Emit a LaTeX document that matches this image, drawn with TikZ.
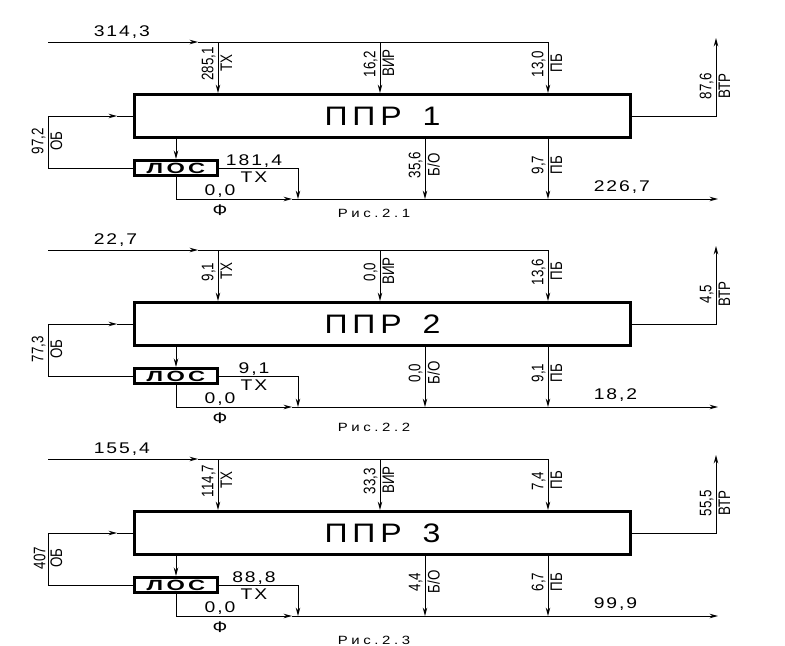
\documentclass[tikz,border=0pt]{standalone}
\usepackage{fontspec}
\usepackage{graphicx}
\setmainfont{Liberation Sans}
\newfontfamily\gost[LetterSpace=10]{Liberation Sans}
\newcommand\widetxt[1]{\scalebox{1.25}[1]{#1}}
\newcommand\talltxt[1]{\scalebox{1}[1.25]{#1}}
\usetikzlibrary{arrows.meta,calc}
\tikzset{
  unit/.style={draw, line width=2.4pt, inner sep=0pt},
  value/.style={font=\gost\fontsize{11}{12}\selectfont, inner sep=1pt},
  rnum/.style={rotate=90, anchor=south, font=\fontsize{9.5}{10}\selectfont, inner sep=1.5pt},
  rlab/.style={rotate=90, anchor=north, font=\fontsize{9.5}{10}\selectfont, inner sep=1.5pt}
}
\begin{document}
\begin{tikzpicture}[x=0.025cm, y=-0.025cm, line width=0.6pt, >={Stealth[length=6pt,width=3.2pt]}]
  \useasboundingbox (0,0) rectangle (785,646);
  \foreach \t/\n/\r/\qin/\qtx/\qvir/\qpb/\qvtr/\qob/\qlos/\qbo/\qpbo/\qout in {
      42/1/213/{314,3}/{285,1}/{16,2}/{13,0}/{87,6}/{97,2}/{181,4}/{35,6}/{9,7}/{226,7},
      250/2/427/{22,7}/{9,1}/{0,0}/{13,6}/{4,5}/{77,3}/{9,1}/{0,0}/{9,1}/{18,2},
      459/3/640/{155,4}/{114,7}/{33,3}/{7,4}/{55,5}/{407}/{88,8}/{4,4}/{6,7}/{99,9}} {
    % blocks
    \node[unit, minimum width=12.39cm, minimum height=1.065cm] (ppr\n) at (382.5,\t+74)
      {\scalebox{1.2}[1]{\gost\addfontfeature{LetterSpace=15}\fontsize{19}{19}\selectfont ППР\hspace{0.15cm} \n}\hspace{0.65cm}};
    \node[unit, minimum width=2.07cm, minimum height=0.37cm] (los\n) at (176,\t+126)
      {\scalebox{1.6}[1]{\gost\addfontfeature{LetterSpace=14}\fontsize{10.5}{10.5}\selectfont\bfseries ЛОС}};
    \node[font=\gost\addfontfeature{LetterSpace=24}\fontsize{8.5}{9}\selectfont] (fig\n) at (374,\r) {\widetxt{Рис.2.\n}};
    % feed line
    \coordinate (in\n) at (48,\t);
    \coordinate (feed\n) at (198,\t);
    \coordinate (tx\n) at (218,\t);
    \coordinate (vir\n) at (380,\t);
    \coordinate (pb\n) at (548,\t);
    \draw[->] (in\n) -- (feed\n);
    \draw (feed\n) -- (pb\n);
    \node[value, anchor=south west] (qin\n) at (92,\t-2) {\widetxt{\qin}};
    \foreach \c/\q/\l in {tx/\qtx/ТХ, vir/\qvir/ВИР, pb/\qpb/ПБ} {
      \draw[->] (\c\n) -- (\c\n |- ppr\n.north);
      \node[rnum] at ($(\c\n)+(0,22)$) {\talltxt{\q}};
      \node[rlab] at ($(\c\n)+(0,21)$) {\talltxt{\l}};
    }
    % return to the block
    \coordinate (ob\n) at (48,\t+74);
    \coordinate (obtip\n) at (117,\t+74);
    \draw (los\n.west) -| (ob\n);
    \draw[->] (ob\n) -- (obtip\n);
    \draw (obtip\n) -- (ppr\n.west);
    \node[rnum] (qob\n) at (48,\t+99) {\talltxt{\qob}};
    \node[rlab] (lob\n) at (48,\t+99) {\talltxt{ОБ}};
    % ВТР
    \coordinate (vtr\n) at (716,\t-4);
    \draw[->] (ppr\n.east) -| (vtr\n);
    \node[rnum] (qvtr\n) at (716,\t+44) {\talltxt{\qvtr}};
    \node[rlab] (lvtr\n) at (716,\t+44) {\talltxt{ВТР}};
    % ЛОС
    \draw[->] (ppr\n.south -| los\n) -- (los\n.north);
    \coordinate (lx\n) at (298,\t+157);
    \draw[->] (los\n.east) -| (lx\n);
    \node[value] (qlos\n) at (254,\t+119) {\widetxt{\qlos}};
    \node[value] (llos\n) at (254,\t+135) {\widetxt{ТХ}};
    \coordinate (ftip\n) at (292,\t+157);
    \coordinate (out\n) at (718,\t+157);
    \draw[->] (los\n.south) |- (ftip\n);
    \draw[->] (ftip\n) -- (out\n);
    \node[value] (qf\n) at (220,\t+149) {\widetxt{0,0}};
    \node[value] (lf\n) at (220,\t+168) {\widetxt{Ф}};
    \node[value, anchor=south west] (qout\n) at (592,\t+153) {\widetxt{\qout}};
    % bottom outlets
    \coordinate (bo\n) at (425,\t+157);
    \coordinate (pbo\n) at (548,\t+157);
    \draw[->] (ppr\n.south -| bo\n) -- (bo\n);
    \draw[->] (ppr\n.south -| pbo\n) -- (pbo\n);
    \node[rnum] at (425,\t+123) {\talltxt{\qbo}};
    \node[rlab] at (425,\t+123) {\talltxt{Б/О}};
    \node[rnum] at (548,\t+123) {\talltxt{\qpbo}};
    \node[rlab] at (548,\t+123) {\talltxt{ПБ}};
  }
\end{tikzpicture}
\end{document}
